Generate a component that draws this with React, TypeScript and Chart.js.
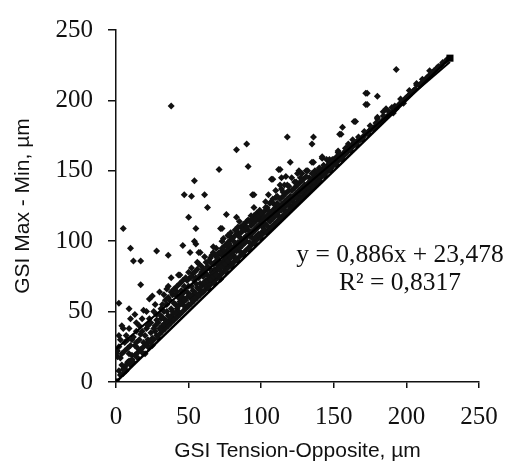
import React, { useEffect, useRef } from "react";
import { Chart, registerables } from "chart.js";

Chart.register(...registerables);

// Scatter data: [GSI Tension-Opposite, GSI Max - Min] (µm)
const outlierPoints: [number, number][] = [
  [38, 196], [83, 165], [90, 169], [91, 153], [71, 151], [54, 143], [47, 133], [52, 132],
  [61, 133], [95, 133], [63, 124], [50, 117], [5, 109], [55, 109], [76, 119], [83, 117],
  [10, 95], [12, 86], [17, 86], [28, 93], [36, 90], [46, 97], [54, 100], [55, 98],
  [51, 92], [73, 109], [79, 106], [83, 108], [67, 96], [74, 102], [58, 92], [17, 69],
  [2, 56], [9, 52], [10, 45], [4, 40], [118, 174], [136, 174], [135, 169], [120, 156],
  [112, 151], [108, 144], [114, 145], [110, 136], [118, 140], [125, 148], [128, 148],
  [132, 150], [135, 156], [142, 160], [145, 158], [128, 143], [193, 222], [216, 221],
  [207, 211], [172, 205], [180, 203], [172, 197], [186, 194], [180, 187], [165, 185],
  [156, 181], [154, 176], [153, 163], [160, 169], [147, 158], [158, 166], [149, 158],
];

const bandPoints: [number, number][] = [
  [1, 18], [0, 20], [1, 22], [2, 25], [3, 17], [4, 12], [2, 8], [5, 6], [6, 10], [3, 30],
  [7, 33], [8, 24], [6, 28], [8, 14], [9, 20], [10, 12], [7, 8], [11, 19], [13, 26], [14, 36],
  [17, 34], [19, 28], [20, 20], [12, 14], [15, 17], [18, 21], [19, 51], [16, 40], [13, 48],
  [11, 30], [15, 24], [18, 45], [23, 59], [25, 61], [25, 31], [25, 26], [27, 40], [22, 25],
  [24, 28], [26, 30], [28, 33], [21, 38], [23, 45], [26, 50], [29, 42], [30, 64], [27, 36],
  [22, 30], [29, 31], [24, 35], [30, 38], [28, 48], [36, 68], [38, 74], [30, 34], [32, 36],
  [34, 38], [36, 40], [38, 42], [31, 45], [33, 50], [35, 55], [37, 58], [39, 48], [32, 40],
  [34, 44], [36, 47], [38, 52], [40, 45], [33, 62], [35, 66], [39, 62], [31, 52], [37, 44],
  [43, 76], [44, 76], [40, 44], [42, 46], [44, 48], [46, 50], [48, 52], [41, 55], [43, 60],
  [45, 65], [47, 68], [49, 72], [42, 52], [44, 57], [46, 60], [48, 58], [50, 55], [41, 62],
  [45, 58], [49, 64], [43, 50], [47, 54], [52, 81], [56, 85], [57, 92], [50, 54], [52, 56],
  [54, 58], [56, 60], [58, 62], [60, 64], [51, 60], [53, 65], [55, 70], [57, 74], [59, 78],
  [52, 68], [54, 72], [56, 67], [58, 70], [60, 75], [53, 62], [55, 63], [57, 66], [59, 68],
  [51, 74], [53, 77], [59, 82], [61, 89], [65, 88], [61, 65], [63, 67], [65, 69], [67, 71],
  [69, 73], [60, 70], [62, 72], [64, 75], [66, 78], [68, 80], [70, 83], [61, 78], [63, 82],
  [65, 80], [67, 84], [69, 86], [62, 68], [64, 70], [66, 73], [68, 75], [70, 76], [63, 76],
  [65, 75], [67, 77], [69, 79], [62, 85], [66, 90], [70, 90], [69, 95], [72, 109], [71, 75],
  [73, 77], [75, 79], [77, 81], [79, 83], [70, 80], [72, 84], [74, 86], [76, 88], [78, 90],
  [80, 92], [71, 86], [73, 90], [75, 92], [77, 94], [79, 96], [72, 79], [74, 82], [76, 84],
  [78, 85], [80, 84], [73, 95], [75, 97], [77, 99], [79, 101], [71, 92], [78, 104], [81, 85],
  [83, 87], [85, 89], [87, 91], [89, 93], [80, 95], [82, 97], [84, 99], [86, 100], [88, 102],
  [90, 104], [81, 90], [83, 93], [85, 95], [87, 97], [89, 99], [82, 104], [84, 106], [86, 110],
  [88, 112], [90, 114], [81, 100], [85, 103], [89, 108], [82, 88], [86, 92], [94, 133],
  [91, 95], [93, 97], [95, 99], [97, 101], [99, 103], [90, 100], [92, 104], [94, 106],
  [96, 108], [98, 110], [100, 112], [91, 108], [93, 111], [95, 113], [97, 115], [99, 117],
  [92, 99], [94, 102], [96, 103], [98, 105], [100, 106], [93, 118], [97, 120], [99, 122],
  [91, 115], [95, 118], [101, 105], [103, 107], [105, 108], [107, 110], [109, 112], [100, 114],
  [102, 116], [104, 118], [106, 120], [108, 122], [110, 124], [101, 110], [103, 112], [105, 115],
  [107, 116], [109, 118], [102, 121], [104, 124], [106, 127], [108, 130], [110, 131], [101, 118],
  [105, 122], [109, 126], [107, 144], [103, 128], [113, 151], [111, 114], [113, 116], [115, 118],
  [117, 120], [119, 122], [110, 120], [112, 124], [114, 126], [116, 128], [118, 130], [120, 132],
  [111, 127], [113, 130], [115, 132], [117, 134], [119, 136], [112, 118], [116, 122], [120, 125],
  [114, 137], [116, 140], [121, 124], [123, 126], [125, 128], [127, 130], [129, 132], [122, 132],
  [124, 134], [126, 136], [128, 138], [130, 140], [121, 136], [123, 138], [125, 140], [127, 142],
  [129, 144], [122, 128], [126, 132], [130, 134], [124, 142], [131, 134], [133, 136], [135, 138],
  [137, 140], [139, 142], [132, 141], [134, 143], [136, 145], [138, 147], [140, 149], [131, 150],
  [136, 156], [133, 145], [137, 150], [139, 146], [131, 138], [134, 139], [138, 143], [140, 143],
  [142, 159], [141, 145], [143, 147], [145, 149], [147, 151], [149, 153], [141, 150], [143, 152],
  [145, 153], [147, 155], [149, 156], [144, 148], [148, 152], [140, 152], [153, 164], [155, 176],
  [151, 155], [153, 157], [155, 159], [157, 161], [159, 163], [150, 156], [152, 160], [154, 161],
  [156, 162], [158, 164], [160, 164], [164, 185], [161, 165], [163, 167], [165, 169], [167, 171],
  [169, 173], [162, 168], [164, 170], [166, 171], [168, 172], [170, 174], [173, 205], [173, 197],
  [171, 175], [173, 177], [175, 179], [177, 180], [179, 182], [174, 178], [176, 180], [178, 181],
  [180, 188], [181, 183], [183, 185], [185, 187], [187, 189], [189, 191], [184, 189], [188, 192],
  [191, 191], [193, 194], [195, 197], [197, 199], [198, 198], [199, 201], [192, 196], [201, 203],
  [203, 205], [205, 207], [207, 212], [209, 211], [212, 214], [215, 217], [219, 221], [222, 224],
  [225, 227], [228, 229],
];

const densePoints: [number, number][] = [
  [3, 5], [5, 9], [7, 12], [9, 15], [11, 16], [13, 19], [15, 21], [17, 23], [19, 25], [21, 27],
  [23, 29], [4, 20], [6, 22], [8, 30], [10, 26], [12, 32], [14, 28], [16, 30], [18, 36], [20, 33],
  [22, 40], [24, 42], [26, 38], [28, 44], [27, 55], [21, 50], [14, 42], [5, 38], [2, 33], [9, 38],
  [31, 37], [33, 41], [35, 43], [37, 46], [39, 50], [41, 49], [43, 54], [45, 56], [47, 58], [49, 60],
  [51, 62], [53, 58], [55, 60], [57, 62], [59, 64], [30, 48], [32, 55], [34, 58], [36, 60], [38, 64],
  [40, 66], [42, 68], [44, 70], [46, 72], [48, 74], [50, 78], [52, 75], [54, 78], [56, 80], [58, 76],
  [32, 46], [35, 50], [40, 56], [45, 62], [50, 68], [55, 74], [60, 80], [42, 64], [47, 64], [57, 84],
  [61, 71], [63, 72], [65, 73], [67, 75], [69, 76], [71, 80], [73, 82], [75, 84], [77, 86], [79, 88],
  [81, 94], [83, 96], [85, 98], [87, 100], [89, 102], [91, 104], [93, 106], [95, 108], [97, 110], [99, 112],
  [62, 80], [64, 86], [66, 84], [68, 90], [70, 88], [72, 92], [74, 94], [76, 97], [78, 98], [80, 102],
  [82, 108], [84, 110], [86, 106], [88, 108], [90, 110], [92, 114], [94, 116], [96, 116], [98, 118], [100, 120],
  [64, 66], [68, 70], [72, 73], [76, 78], [80, 82], [84, 86], [88, 90], [92, 94], [96, 98], [100, 102],
  [67, 92], [73, 100], [77, 104], [85, 114], [95, 124],
  [102, 108], [104, 111], [106, 114], [108, 116], [110, 118], [112, 121], [114, 122], [116, 124], [118, 126], [120, 128],
  [122, 130], [124, 131], [126, 134], [128, 135], [130, 137], [132, 138], [134, 141], [136, 142], [138, 145], [140, 146],
  [142, 148], [144, 151], [146, 152], [148, 154], [150, 158], [152, 158], [154, 159], [156, 160], [158, 162], [160, 167],
  [103, 124], [107, 128], [111, 132], [115, 135], [119, 139], [123, 142], [127, 145], [131, 146], [135, 148], [139, 150],
  [143, 154], [147, 156], [104, 106], [108, 110], [112, 114], [116, 118], [120, 122], [124, 126], [128, 130], [132, 134],
  [136, 138], [140, 142], [144, 146], [148, 150], [152, 154], [156, 158], [105, 133], [113, 140], [121, 145], [117, 146],
  [126, 150],
  [162, 164], [166, 168], [170, 172], [174, 176], [178, 180], [182, 184], [186, 188], [190, 192], [194, 196], [196, 198],
  [200, 202], [202, 204], [206, 208], [210, 212], [214, 216], [218, 220], [221, 223], [224, 225], [227, 228], [163, 172],
  [167, 174], [171, 178], [175, 182], [179, 184], [184, 192], [190, 195], [196, 201], [202, 207], [211, 215], [217, 219],
];

// Reference line y = x (endpoints) and fitted trend line
const identityX = [0, 230];
const trendSlope = 0.886;
const trendIntercept = 23.478;
const trendX = [0, 230];
const equationLines = ["y = 0,886x + 23,478", "R\u00B2 = 0,8317"];
const axisTicks = [0, 50, 100, 150, 200, 250];

const W = 513;
const H = 461;

export default function App() {
  const ref = useRef<HTMLCanvasElement | null>(null);

  useEffect(() => {
    document.body.style.margin = "0";
    const canvas = ref.current;
    if (!canvas) return;

    const allPoints = [...bandPoints, ...densePoints, ...outlierPoints].map(([x, y]) => ({ x, y }));

    const textPlugin = {
      id: "equationText",
      afterDraw(chart: any) {
        const ctx = chart.ctx;
        ctx.save();
        ctx.fillStyle = "#111";
        ctx.font = '25.5px "Liberation Serif"';
        ctx.textAlign = "center";
        ctx.textBaseline = "alphabetic";
        ctx.fillText(equationLines[0], 400, 262);
        ctx.fillText(equationLines[1], 400, 290);
        ctx.restore();
      },
    };

    const chart = new Chart(canvas, {
      type: "scatter",
      data: {
        datasets: [
          {
            type: "line",
            label: "y = x",
            data: identityX.map((x) => ({ x, y: x })),
            borderColor: "#000",
            backgroundColor: "#000",
            borderWidth: 2.5,
            pointStyle: "rect",
            pointRadius: 5,
            pointBorderWidth: 0,
            fill: false,
          },
          {
            type: "line",
            label: "trend",
            data: trendX.map((x) => ({ x, y: trendSlope * x + trendIntercept })),
            borderColor: "#000",
            borderWidth: 2,
            pointRadius: 0,
            fill: false,
          },
          {
            label: "GSI",
            data: allPoints,
            pointStyle: "rectRot",
            pointRadius: 3.5,
            backgroundColor: "#111",
            borderColor: "#111",
            pointBorderWidth: 0,
          },
        ],
      },
      options: {
        responsive: false,
        animation: false,
        layout: { padding: { top: 22, right: 34, left: 0, bottom: 0 } },
        plugins: {
          legend: { display: false },
          tooltip: { enabled: false },
        },
        scales: {
          x: {
            type: "linear",
            min: 0,
            max: 250,
            afterBuildTicks: (s: any) => {
              s.ticks = axisTicks.map((v) => ({ value: v }));
            },
            afterFit: (s: any) => {
              s.height = 79;
            },
            ticks: {
              color: "#111",
              font: { family: "Liberation Serif", size: 25 },
              padding: 14,
              maxRotation: 0,
            },
            grid: {
              drawOnChartArea: false,
              drawTicks: true,
              tickLength: 6,
              color: "#111",
              lineWidth: 1.5,
            },
            border: { display: true, color: "#111", width: 1.5 },
            title: {
              display: true,
              text: "GSI Tension-Opposite, \u00B5m",
              color: "#111",
              font: { family: "Liberation Sans", size: 21 },
              padding: { top: 0, bottom: -3 },
            },
          },
          y: {
            type: "linear",
            min: 0,
            max: 250,
            afterBuildTicks: (s: any) => {
              s.ticks = axisTicks.map((v) => ({ value: v }));
            },
            afterFit: (s: any) => {
              s.width = 116;
            },
            ticks: {
              color: "#111",
              font: { family: "Liberation Serif", size: 25 },
              padding: 15,
            },
            grid: {
              drawOnChartArea: false,
              drawTicks: true,
              tickLength: 8,
              color: "#111",
              lineWidth: 1.5,
            },
            border: { display: true, color: "#111", width: 1.5 },
            title: {
              display: true,
              text: "GSI Max - Min, \u00B5m",
              color: "#111",
              font: { family: "Liberation Sans", size: 21 },
              padding: { top: 11, bottom: 0 },
            },
          },
        },
      },
      plugins: [textPlugin],
    } as any);

    return () => chart.destroy();
  }, []);

  return (
    <div style={{ width: W, height: H }}>
      <canvas ref={ref} width={W} height={H} style={{ display: "block" }} />
    </div>
  );
}
